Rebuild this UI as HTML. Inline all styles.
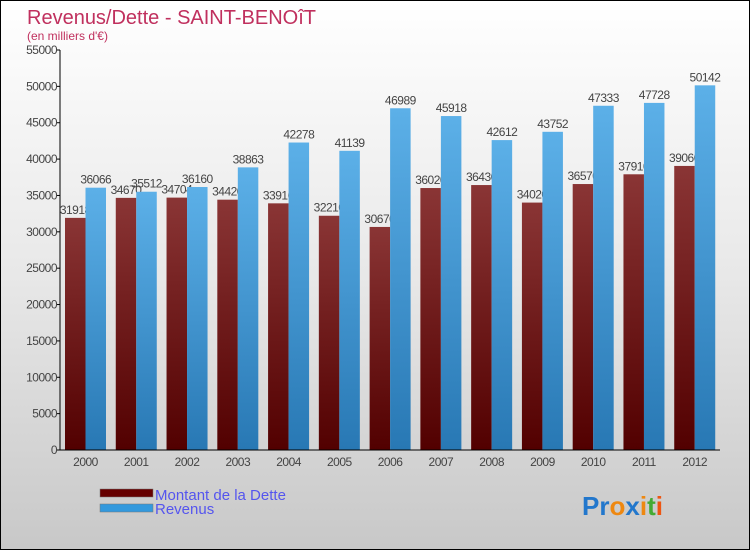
<!DOCTYPE html>
<html><head><meta charset="utf-8"><style>
body{margin:0;width:750px;height:550px;overflow:hidden;font-family:"Liberation Sans",sans-serif}
#wrap{position:absolute;left:0;top:0;width:748px;height:548px;border:1px solid #000;background:linear-gradient(#fff,#e8e8e8 50%,#c8c8c8)}
</style></head><body>
<div id="wrap">
<svg id="svg" width="750" height="550" style="position:absolute;left:-1px;top:-1px">
<defs>
<linearGradient id="gd" x1="0" y1="0" x2="0" y2="1"><stop offset="0" stop-color="#8a3535"/><stop offset="1" stop-color="#520000"/></linearGradient>
<linearGradient id="gr" x1="0" y1="0" x2="0" y2="1"><stop offset="0" stop-color="#5cb0e8"/><stop offset="1" stop-color="#2878b4"/></linearGradient>
</defs>
<text x="27" y="24" font-size="20" fill="#c0305e">Revenus/Dette - SAINT-BENOîT</text>
<text x="27" y="40" font-size="12" fill="#c0305e">(en milliers d'€)</text>
<g id="plot"></g>
<rect x="100" y="489" width="53" height="8" fill="#660000" stroke="#777" stroke-width="0.5"/>
<text x="155" y="500" font-size="15" fill="#5555ee">Montant de la Dette</text>
<rect x="100" y="504" width="53" height="8" fill="#3399dd" stroke="#777" stroke-width="0.5"/>
<text x="155" y="514" font-size="15" fill="#5555ee">Revenus</text>
<text x="582" y="515" font-size="26" font-weight="bold"><tspan fill="#2277cc">Pr</tspan><tspan fill="#ee8811">o</tspan><tspan fill="#2277cc">x</tspan><tspan fill="#ee8811">i</tspan><tspan fill="#44aa33">t</tspan><tspan fill="#ee5511">i</tspan></text>
</svg>
</div>
<script>
const years=["2000","2001","2002","2003","2004","2005","2006","2007","2008","2009","2010","2011","2012"];
const debt=[31918,34670,34704,34420,33916,32210,30670,36020,36430,34020,36570,37910,39060];
const revenue=[36066,35512,36160,38863,42278,41139,46989,45918,42612,43752,47333,47728,50142];
const yTicks=[0,5000,10000,15000,20000,25000,30000,35000,40000,45000,50000,55000];
const NS="http://www.w3.org/2000/svg";
const g=document.getElementById('plot');
const x0=60,x1=720,y0=450,yTop=50,yMax=55000;
const pitch=(x1-x0)/years.length;
const yS=v=>y0-(v/yMax)*(y0-yTop);
const bw=20.5;
function mk(t,a){const e=document.createElementNS(NS,t);for(const k in a)e.setAttribute(k,a[k]);g.appendChild(e);return e;}
yTicks.forEach(v=>{
 const y=yS(v);
 const l=mk('line',{x1:x0-4,x2:x0,y1:y,y2:y,stroke:'#000'});
 
 
 const t=mk('text',{x:x0-3,y:y+4,'font-size':12,'text-anchor':'end',fill:'#444','letter-spacing':'-0.5'});
 t.textContent=v;
 
 
});
years.forEach((yr,i)=>{
 const gx=x0+5+i*pitch;
 const dy=yS(debt[i]);
 const db=mk('rect',{x:gx,y:dy,width:bw,height:y0-dy,fill:'url(#gd)'});
 
 
 const dt=mk('text',{x:gx+bw/2,y:dy-4,'font-size':12,'text-anchor':'middle',fill:'#444','letter-spacing':'-0.5'});
 dt.textContent=debt[i];
 
 
 const ry=yS(revenue[i]);
 const rb=mk('rect',{x:gx+bw,y:ry,width:bw,height:y0-ry,fill:'url(#gr)'});
 
 
 const rt=mk('text',{x:gx+bw*1.5,y:ry-4,'font-size':12,'text-anchor':'middle',fill:'#444','letter-spacing':'-0.5'});
 rt.textContent=revenue[i];
 
 
 const xt=mk('text',{x:gx+bw,y:y0+16,'font-size':12,'text-anchor':'middle',fill:'#444','letter-spacing':'-0.5'});
 xt.textContent=yr;
 
 
});
const ya=mk('line',{x1:x0,x2:x0,y1:yTop,y2:y0,stroke:'#000'});


const xa=mk('line',{x1:x0,x2:x1,y1:y0,y2:y0,stroke:'#000'});


</script>
</body></html>
